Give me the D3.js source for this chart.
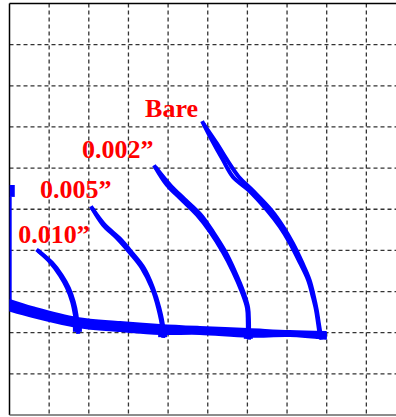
<!DOCTYPE html>
<html>
<head>
<meta charset="utf-8">
<script src="https://cdn.jsdelivr.net/npm/d3@7"></script>
<style>
  html, body { margin: 0; padding: 0; background: #fff; }
  svg { display: block; }
</style>
</head>
<body>
<svg id="chart"></svg>
<script>
// grid ticks (unlabelled in the original)
var xTicks = [0, 1, 2, 3, 4, 5, 6, 7, 8, 9, 10];
var yTicks = [0, 1, 2, 3, 4, 5, 6, 7, 8, 9, 10];

// curve labels
var labels = ["Bare", "0.002\u201d", "0.005\u201d", "0.010\u201d"];
var labelPos = [[3.42, 7.24], [1.83, 6.25], [0.77, 5.27], [0.22, 4.18]];

// each curve is two close traces (up / down)
var bareA = [[4.88, 7.10], [5.13, 6.63], [5.38, 6.20], [5.64, 5.78], [6.02, 5.47], [6.49, 4.98],
             [6.82, 4.57], [7.07, 4.18], [7.33, 3.69], [7.53, 3.28], [7.65, 2.87], [7.73, 2.55],
             [7.78, 2.24], [7.83, 1.90]];
var bareB = [[4.92, 7.04], [5.23, 6.60], [5.50, 6.18], [5.78, 5.79], [6.14, 5.45], [6.60, 4.98],
             [6.92, 4.55], [7.15, 4.17], [7.39, 3.69], [7.57, 3.28], [7.68, 2.87], [7.75, 2.55],
             [7.80, 2.24], [7.86, 1.88]];
var c002A = [[3.67, 6.03], [3.97, 5.59], [4.30, 5.27], [4.73, 4.86], [5.06, 4.45], [5.38, 3.96],
             [5.64, 3.48], [5.86, 2.99], [5.99, 2.60], [6.01, 2.26], [6.01, 1.90]];
var c002B = [[3.71, 5.99], [4.07, 5.57], [4.41, 5.25], [4.83, 4.86], [5.14, 4.44], [5.45, 3.96],
             [5.69, 3.48], [5.90, 2.99], [6.02, 2.60], [6.04, 2.26], [6.04, 1.88]];
var c005A = [[2.08, 5.03], [2.36, 4.62], [2.71, 4.30], [3.04, 3.94], [3.34, 3.57], [3.59, 3.09],
             [3.75, 2.60], [3.85, 2.11], [3.85, 1.94]];
var c005B = [[2.11, 4.99], [2.42, 4.60], [2.78, 4.29], [3.10, 3.93], [3.39, 3.57], [3.62, 3.09],
             [3.78, 2.60], [3.88, 2.11], [3.88, 1.92]];
var c010A = [[0.72, 3.99], [1.02, 3.72], [1.27, 3.40], [1.45, 3.09], [1.58, 2.75], [1.65, 2.43],
             [1.70, 2.07]];
var c010B = [[0.76, 3.96], [1.07, 3.70], [1.32, 3.39], [1.50, 3.08], [1.62, 2.75], [1.69, 2.43],
             [1.73, 2.02]];

// shared base line band: x, upper y, lower y
var baseX = [0.02, 0.59, 1.70, 2.79, 3.80, 4.80, 6.01, 7.07, 7.98];
var baseHi = [2.79, 2.62, 2.36, 2.26, 2.19, 2.14, 2.09, 2.04, 2.02];
var baseLo = [2.53, 2.38, 2.14, 2.04, 1.97, 1.97, 1.90, 1.92, 1.85];

// trace along the left axis
var wallTop = [[0.07, 5.59], [0.07, 5.30]];
var wallLine = [[0.03, 5.30], [0.03, 2.79]];

var W = 396, H = 417;
var x0 = 9.5, x1 = 406, y0 = 415, y1 = 3.5;

var x = d3.scaleLinear().domain([0, 10]).range([x0, x1]);
var y = d3.scaleLinear().domain([0, 10]).range([y0, y1]);

var svg = d3.select("#chart").attr("width", W).attr("height", H);

// dashed grid
var grid = svg.append("g");
grid.selectAll("line.v").data(xTicks.slice(1, -1)).enter().append("line")
  .attr("x1", function(d) { return x(d); }).attr("x2", function(d) { return x(d); })
  .attr("y1", y1).attr("y2", y0)
  .attr("stroke", "#333").attr("stroke-width", 1.3).attr("stroke-dasharray", "4,3");
grid.selectAll("line.h").data(yTicks.slice(1, -1)).enter().append("line")
  .attr("x1", x0).attr("x2", x1)
  .attr("y1", function(d) { return y(d); }).attr("y2", function(d) { return y(d); })
  .attr("stroke", "#333").attr("stroke-width", 1.3).attr("stroke-dasharray", "4,3");

// frame
svg.append("line").attr("x1", x0).attr("x2", x1).attr("y1", y1).attr("y2", y1)
  .attr("stroke", "#000").attr("stroke-width", 1.5);
svg.append("line").attr("x1", x0).attr("x2", x0).attr("y1", y1).attr("y2", y0)
  .attr("stroke", "#000").attr("stroke-width", 1.5);
svg.append("line").attr("x1", x0).attr("x2", x1).attr("y1", y0).attr("y2", y0)
  .attr("stroke", "#666").attr("stroke-width", 1.5);

var blue = "#0000ff";
var line = d3.line().curve(d3.curveCatmullRom)
  .x(function(d) { return x(d[0]); }).y(function(d) { return y(d[1]); });
var straight = d3.line().x(function(d) { return x(d[0]); }).y(function(d) { return y(d[1]); });

// base band
var band = d3.area().curve(d3.curveCatmullRom)
  .x(function(d, i) { return x(baseX[i]); })
  .y0(function(d, i) { return y(baseLo[i]); })
  .y1(function(d, i) { return y(baseHi[i]); });
svg.append("path").attr("d", band(baseX))
  .attr("fill", blue).attr("stroke", blue).attr("stroke-width", 2).attr("stroke-linejoin", "round");

svg.append("path").attr("d", straight(wallLine))
  .attr("fill", "none").attr("stroke", blue).attr("stroke-width", 2);
svg.append("path").attr("d", straight(wallTop))
  .attr("fill", "none").attr("stroke", blue).attr("stroke-width", 5);

var traces = [bareA, bareB, c002A, c002B, c005A, c005B, c010A, c010B];
svg.append("g").selectAll("path").data(traces).enter().append("path")
  .attr("d", line)
  .attr("fill", "none").attr("stroke", blue).attr("stroke-width", 4)
  .attr("stroke-linejoin", "round").attr("stroke-linecap", "square");

// end blobs at the base
var ends = [bareA[bareA.length - 1], c002A[c002A.length - 1], c005A[c005A.length - 1], c010A[c010A.length - 1]];
svg.append("g").selectAll("rect").data(ends).enter().append("rect")
  .attr("x", function(d) { return x(d[0]) - 4; }).attr("y", function(d) { return y(d[1]) - 5; })
  .attr("width", 9).attr("height", 7).attr("fill", blue);

svg.append("g").selectAll("text").data(labels).enter().append("text")
  .attr("x", function(d, i) { return x(labelPos[i][0]); })
  .attr("y", function(d, i) { return y(labelPos[i][1]); })
  .attr("fill", "#ff0000")
  .style("font-family", "'Liberation Serif', 'Times New Roman', serif")
  .style("font-weight", "bold")
  .style("font-size", "26px")
  .text(function(d) { return d; });
</script>
</body>
</html>
